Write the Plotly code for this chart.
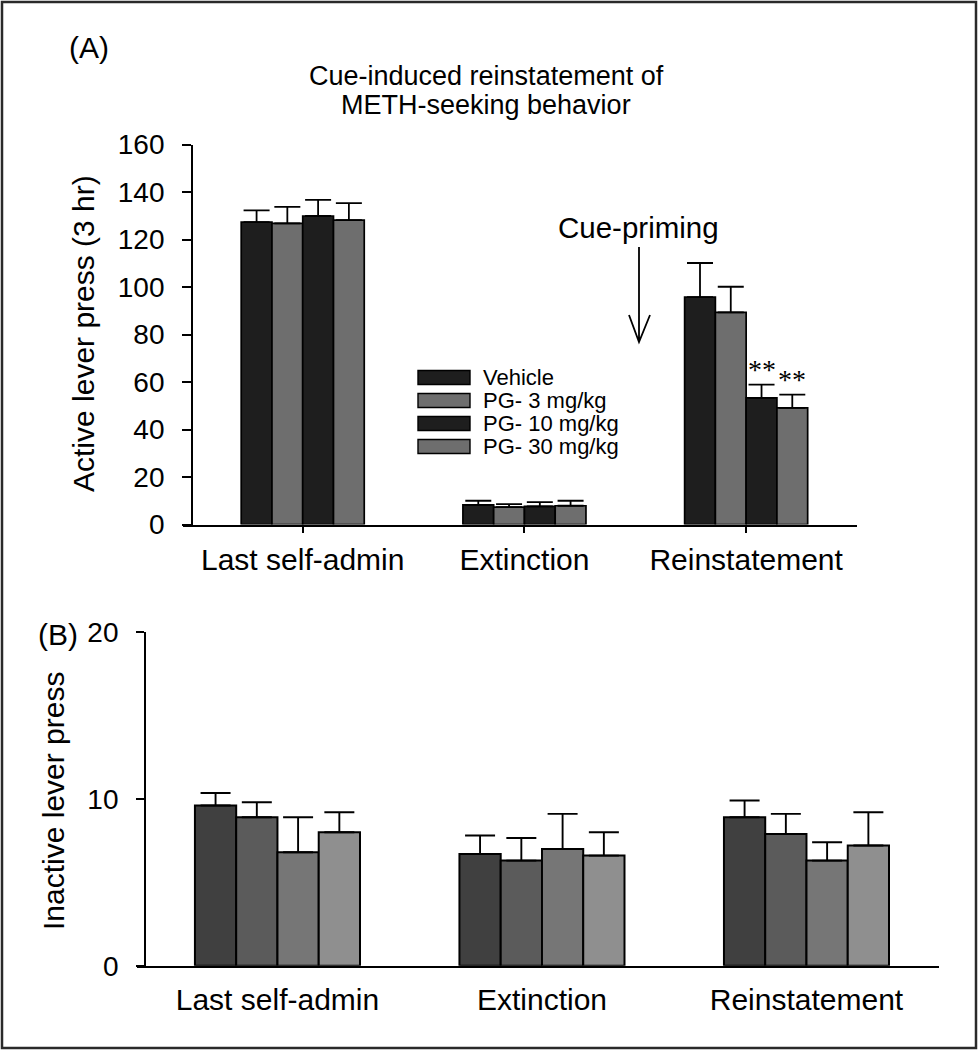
import plotly.graph_objects as go

# ---------------- data ----------------
categories = ["Last self-admin", "Extinction", "Reinstatement"]
series_names = ["Vehicle", "PG- 3 mg/kg", "PG- 10 mg/kg", "PG- 30 mg/kg"]

# Panel A: active lever press (3 hr)
active_vehicle = [127.3, 8.3, 95.7]
active_pg3 = [126.8, 7.3, 89.3]
active_pg10 = [129.9, 7.6, 53.3]
active_pg30 = [128.2, 7.9, 49.1]
active_err_vehicle = [5.0, 1.7, 14.4]
active_err_pg3 = [6.9, 1.3, 10.8]
active_err_pg10 = [6.8, 1.8, 5.6]
active_err_pg30 = [7.1, 2.1, 5.6]

# Panel B: inactive lever press
inactive_vehicle = [9.6, 6.7, 8.9]
inactive_pg3 = [8.9, 6.3, 7.9]
inactive_pg10 = [6.8, 7.0, 6.3]
inactive_pg30 = [8.0, 6.6, 7.2]
inactive_err_vehicle = [0.75, 1.1, 1.0]
inactive_err_pg3 = [0.9, 1.35, 1.2]
inactive_err_pg10 = [2.1, 2.1, 1.1]
inactive_err_pg30 = [1.2, 1.4, 2.0]

# significance marks on reinstatement (per series)
sig_marks = ["", "", "**", "**"]
sig_category_index = 2

active_y_ticks = [0, 20, 40, 60, 80, 100, 120, 140, 160]
inactive_y_ticks = [0, 10, 20]

# ---------------- styling ----------------
W, H = 978, 1050
FONT = "Liberation Sans, Arial, Helvetica, sans-serif"
colors_A = ["#1e1e1e", "#6e6e6e", "#1e1e1e", "#6e6e6e"]
colors_B = ["#404040", "#5b5b5b", "#767676", "#8f8f8f"]
group_fill_A = 0.555   # fraction of category slot used by a group (panel A)
group_fill_B = 0.624   # panel B


def px_x(x):
    return x / W


def px_y(y):
    return 1 - y / H


active_means = [active_vehicle, active_pg3, active_pg10, active_pg30]
active_errs = [active_err_vehicle, active_err_pg3, active_err_pg10, active_err_pg30]
inactive_means = [inactive_vehicle, inactive_pg3, inactive_pg10, inactive_pg30]
inactive_errs = [inactive_err_vehicle, inactive_err_pg3, inactive_err_pg10, inactive_err_pg30]

n = len(series_names)
bwA = group_fill_A / n
bwB = group_fill_B / n

fig = go.Figure()

for i, name in enumerate(series_names):
    fig.add_trace(go.Bar(
        x=categories, y=active_means[i], name=name, showlegend=False,
        width=bwA, offset=-group_fill_A / 2 + i * bwA,
        marker=dict(color=colors_A[i], line=dict(color="#000000", width=1.7)),
        error_y=dict(type="data", symmetric=False, array=active_errs[i],
                     arrayminus=[0] * len(categories), color="#000000",
                     thickness=1.8, width=13),
        xaxis="x", yaxis="y",
    ))

for i, name in enumerate(series_names):
    fig.add_trace(go.Bar(
        x=categories, y=inactive_means[i], name=name, showlegend=False,
        width=bwB, offset=-group_fill_B / 2 + i * bwB,
        marker=dict(color=colors_B[i], line=dict(color="#000000", width=2)),
        error_y=dict(type="data", symmetric=False, array=inactive_errs[i],
                     arrayminus=[0] * len(categories), color="#000000",
                     thickness=1.9, width=15),
        xaxis="x2", yaxis="y2",
    ))

axis_common = dict(showgrid=False, zeroline=False, showline=True,
                   linecolor="#000000", linewidth=1.8, automargin=False,
                   tickfont=dict(family=FONT, size=28, color="#000000"))

fig.update_layout(
    width=W, height=H, autosize=False,
    margin=dict(l=0, r=0, t=0, b=0, pad=0),
    paper_bgcolor="white", plot_bgcolor="white",
    barmode="group",
    showlegend=False,
    font=dict(family=FONT, color="#000000"),
    xaxis=dict(axis_common, domain=[px_x(183), px_x(857)], range=[-0.54, 2.5],
               anchor="y", type="category", ticks="outside", ticklen=7,
               tickwidth=1.8, tickcolor="#000000", ticklabelstandoff=1,
               tickfont=dict(family=FONT, size=30, color="#000000")),
    yaxis=dict(axis_common, domain=[px_y(524.5), px_y(144.5)], range=[0, 160],
               anchor="free", position=px_x(192), tickvals=active_y_ticks,
               ticks="outside", ticklen=9, tickwidth=1.8, tickcolor="#000000",
               ticklabelstandoff=12),
    xaxis2=dict(axis_common, domain=[px_x(137), px_x(939)], range=[-0.531, 2.501],
                anchor="y2", type="category", ticks="", ticklabelstandoff=6,
                tickfont=dict(family=FONT, size=30, color="#000000")),
    yaxis2=dict(axis_common, domain=[px_y(965.7), px_y(632)], range=[0, 20],
                anchor="free", position=px_x(145), tickvals=inactive_y_ticks,
                ticks="outside", ticklen=8, tickwidth=1.8, tickcolor="#000000",
                ticklabelstandoff=12),
)


def note(text, x, y, size, family=FONT, angle=0, xanchor="center"):
    return dict(text=text, x=px_x(x), y=px_y(y), xref="paper", yref="paper",
                xanchor=xanchor, yanchor="middle", showarrow=False, textangle=angle,
                font=dict(family=family, size=size, color="#000000"))


annotations = []
annotations.append(note("(A)", 89, 48, 30))
annotations.append(note("(B)", 58, 634, 30))
annotations.append(note("Cue-induced reinstatement of", 486, 76, 27))
annotations.append(note("METH-seeking behavior", 486, 105, 27))
annotations.append(note("Active lever press (3 hr)", 83, 334, 30, angle=-90))
annotations.append(note("Inactive lever press", 53, 801, 30, angle=-90))
annotations.append(note("Cue-priming", 638, 228, 29.5))

# significance asterisks
for i, mark in enumerate(sig_marks):
    if not mark:
        continue
    xpos = sig_category_index - group_fill_A / 2 + (i + 0.5) * bwA
    top = active_means[i][sig_category_index] + active_errs[i][sig_category_index]
    annotations.append(dict(text=mark, x=xpos, y=top, xref="x", yref="y",
                            xanchor="center", yanchor="bottom",
                            showarrow=False, yshift=-2,
                            font=dict(family="Liberation Serif, Times New Roman, serif",
                                      size=28, color="#000000")))

# manual legend (panel A)
shapes = []
leg_x0, leg_x1 = 418, 470
leg_y0, leg_dy = 377.5, 23
for i, name in enumerate(series_names):
    cy = leg_y0 + i * leg_dy
    shapes.append(dict(type="rect", xref="paper", yref="paper",
                       x0=px_x(leg_x0), x1=px_x(leg_x1),
                       y0=px_y(cy + 7), y1=px_y(cy - 7),
                       fillcolor=colors_A[i], line=dict(color="#000000", width=1.4)))
    annotations.append(note(name, 481, cy, 22, xanchor="left"))

# arrow (open V head)
ax = 639
shapes.append(dict(type="path", xref="paper", yref="paper",
                   path=(f"M {px_x(ax)},{px_y(247)} L {px_x(ax)},{px_y(342)} "
                         f"M {px_x(ax-10)},{px_y(315)} L {px_x(ax)},{px_y(342)} "
                         f"L {px_x(ax+11)},{px_y(315)}"),
                   line=dict(color="#000000", width=1.8)))

# figure border
shapes.append(dict(type="rect", xref="paper", yref="paper",
                   x0=px_x(2), x1=px_x(976), y0=px_y(1048), y1=px_y(2),
                   line=dict(color="#2a2a2a", width=2.5), fillcolor="rgba(0,0,0,0)"))

fig.update_layout(annotations=annotations, shapes=shapes)

fig.write_html("out.html", config={"displayModeBar": False},
               post_script="document.body.style.margin='0';document.body.style.overflow='hidden';")
